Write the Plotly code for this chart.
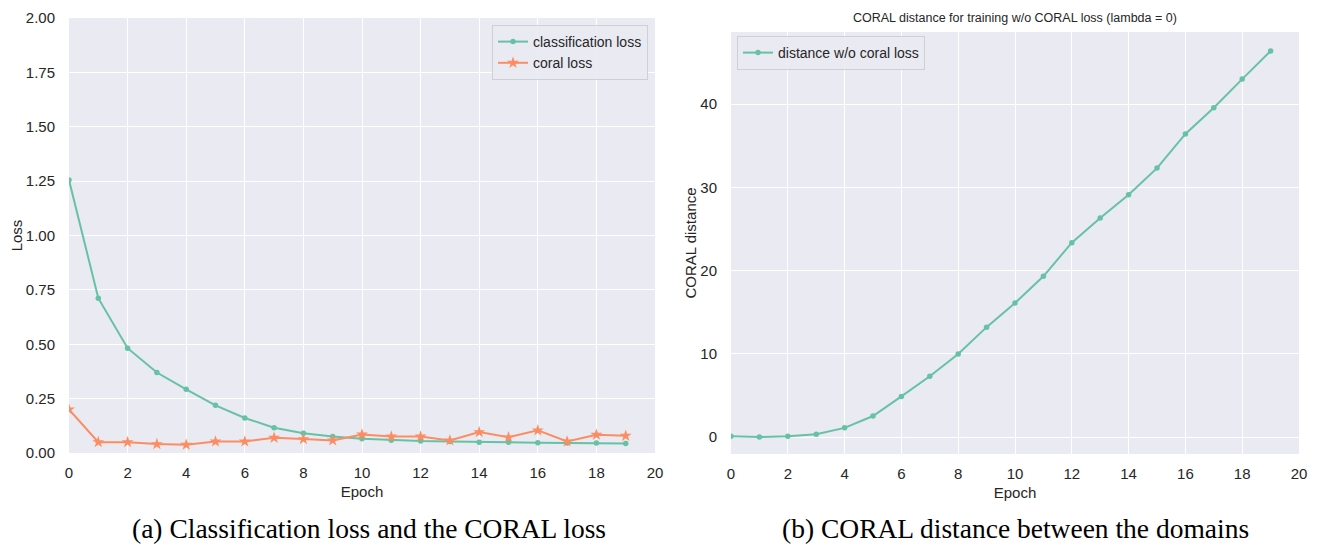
import plotly.graph_objects as go

epochs = list(range(20))
classification_loss = [1.255, 0.712, 0.482, 0.370, 0.293, 0.219, 0.161, 0.116, 0.091, 0.076,
                       0.066, 0.059, 0.055, 0.053, 0.050, 0.049, 0.047, 0.046, 0.046, 0.044]
coral_loss = [0.200, 0.050, 0.050, 0.041, 0.038, 0.053, 0.053, 0.070, 0.064, 0.058,
              0.085, 0.076, 0.076, 0.058, 0.096, 0.072, 0.104, 0.053, 0.084, 0.079]
coral_distance = [0.08, 0.0, 0.08, 0.33, 1.1, 2.52, 4.88, 7.3, 9.96, 13.2,
                  16.1, 19.3, 23.35, 26.3, 29.1, 32.3, 36.4, 39.56, 42.99, 46.37]

left_xticks = list(range(0, 21, 2))
left_yticks = [0.0, 0.25, 0.5, 0.75, 1.0, 1.25, 1.5, 1.75, 2.0]
right_yticks = [0, 10, 20, 30, 40]

GREEN = "#66c2a5"
ORANGE = "#fc8d62"
BG = "#eaeaf2"
PAGE_MARGIN = 8  # default body margin of the html page
W, H = 1318 - PAGE_MARGIN, 551 - PAGE_MARGIN

def px_x(p):
    return (p - PAGE_MARGIN) / W

def px_y(p):
    return 1 - (p - PAGE_MARGIN) / H

fig = go.Figure()

fig.add_trace(go.Scatter(x=epochs, y=classification_loss, mode="lines+markers",
                         name="classification loss", xaxis="x", yaxis="y",
                         line=dict(color=GREEN, width=2), marker=dict(size=5.5, color=GREEN)))
fig.add_trace(go.Scatter(x=epochs, y=coral_loss, mode="lines+markers",
                         name="coral loss", xaxis="x", yaxis="y",
                         line=dict(color=ORANGE, width=2),
                         marker=dict(size=9, color=ORANGE, symbol="star")))
fig.add_trace(go.Scatter(x=epochs, y=coral_distance, mode="lines+markers",
                         name="distance w/o coral loss", xaxis="x2", yaxis="y2",
                         line=dict(color=GREEN, width=2), marker=dict(size=5.5, color=GREEN),
                         legend="legend2"))

FONT = "Liberation Sans, Arial"
tickfont = dict(family=FONT, size=15, color="#262626")
titlefont = dict(family=FONT, size=15, color="#262626")

common_x = dict(range=[0, 20], tickvals=left_xticks, showgrid=True, gridcolor="white",
                gridwidth=1.2, zeroline=False, showline=False, ticks="outside", ticklen=6,
                tickcolor="rgba(0,0,0,0)", tickfont=tickfont, automargin=False)

fig.update_layout(
    width=W, height=H,
    margin=dict(l=0, r=0, t=0, b=0),
    paper_bgcolor="white",
    plot_bgcolor=BG,
    showlegend=True,
    xaxis=dict(domain=[px_x(69), px_x(655)], anchor="y",
               title=dict(text="Epoch", font=titlefont, standoff=6), **common_x),
    yaxis=dict(domain=[px_y(453), px_y(18)], anchor="x", range=[0, 2.0],
               tickvals=left_yticks, tickformat=".2f", showgrid=True, gridcolor="white",
               gridwidth=1.2, zeroline=False, showline=False, ticks="outside", ticklen=10,
               tickcolor="rgba(0,0,0,0)", tickfont=tickfont, automargin=False,
               title=dict(text="Loss", font=titlefont, standoff=0)),
    xaxis2=dict(domain=[px_x(731), px_x(1299)], anchor="y2",
                title=dict(text="Epoch", font=titlefont, standoff=6), **common_x),
    yaxis2=dict(domain=[px_y(454), px_y(32)], anchor="x2", range=[-2.04, 48.65],
                tickvals=right_yticks, showgrid=True, gridcolor="white", gridwidth=1.2,
                zeroline=False, showline=False, ticks="outside", ticklen=10,
                tickcolor="rgba(0,0,0,0)", tickfont=tickfont, automargin=False,
                title=dict(text="CORAL distance", font=titlefont, standoff=0)),
    legend=dict(x=px_x(648), y=px_y(25), xanchor="right", yanchor="top",
                bgcolor="rgba(234,234,242,0.9)", bordercolor="#cfcfd6", borderwidth=1,
                font=dict(family=FONT, size=14, color="#262626"),
                tracegroupgap=0),
    legend2=dict(x=px_x(737), y=px_y(36), xanchor="left", yanchor="top",
                 bgcolor="rgba(234,234,242,0.9)", bordercolor="#cfcfd6", borderwidth=1,
                 font=dict(family=FONT, size=14, color="#262626")),
    annotations=[
        dict(text="CORAL distance for training w/o CORAL loss (lambda = 0)",
             x=(px_x(731) + px_x(1299)) / 2, y=px_y(18), xref="paper", yref="paper",
             showarrow=False, xanchor="center", yanchor="middle",
             font=dict(family=FONT, size=12.5, color="#262626")),
        dict(text="(a) Classification loss and the CORAL loss",
             x=px_x(369), y=px_y(528), xref="paper", yref="paper", showarrow=False,
             xanchor="center", yanchor="middle",
             font=dict(family="Liberation Serif, Times New Roman", size=27.5, color="black")),
        dict(text="(b) CORAL distance between the domains",
             x=px_x(1015), y=px_y(528), xref="paper", yref="paper", showarrow=False,
             xanchor="center", yanchor="middle",
             font=dict(family="Liberation Serif, Times New Roman", size=27.5, color="black")),
    ],
)

fig.write_html("out.html")
